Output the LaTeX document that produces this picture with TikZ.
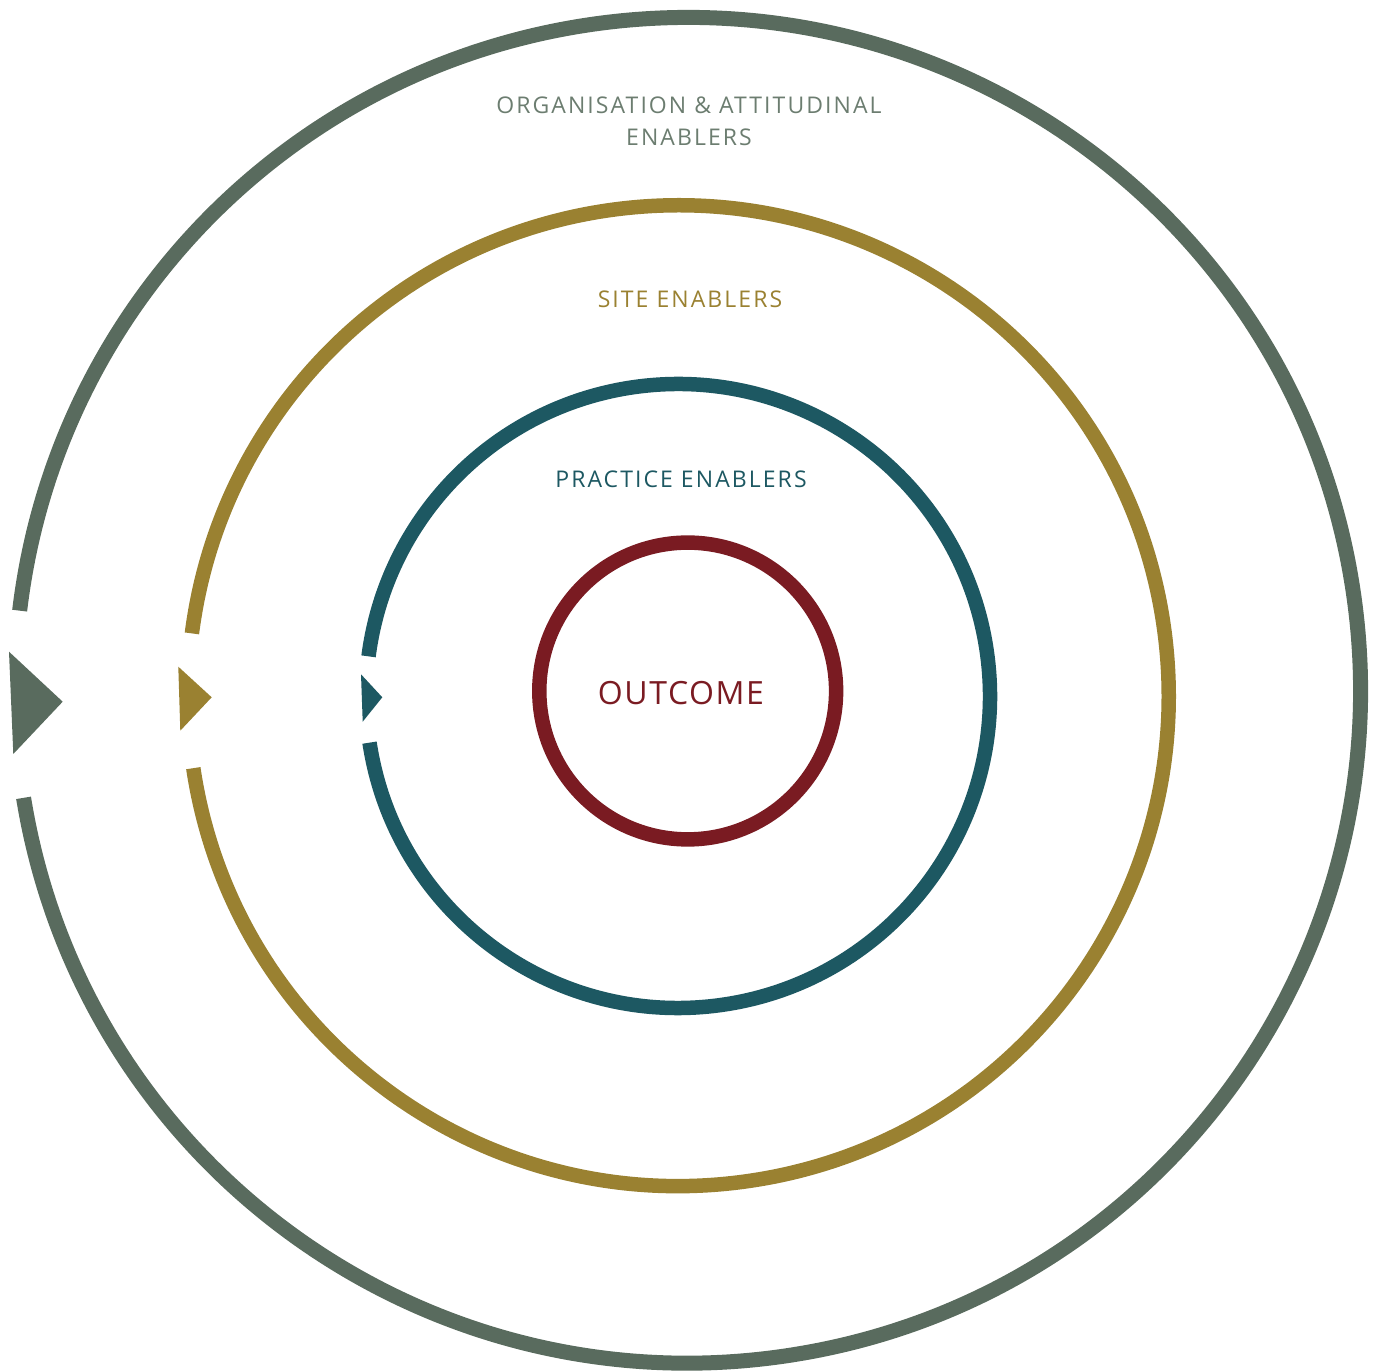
\documentclass[tikz,border=0pt]{standalone}
\usepackage{fontspec}
\usetikzlibrary{calc}
\setmainfont{Open Sans}[LetterSpace=9]
\newfontfamily\titlefont{Open Sans}[LetterSpace=5]
\begin{document}
\begin{tikzpicture}[x=1pt,y=1pt]
  \definecolor{orgcol}{HTML}{596B5E}
  \definecolor{orgtext}{HTML}{6C7D70}
  \definecolor{sitecol}{HTML}{9A8131}
  \definecolor{praccol}{HTML}{1D5862}
  \definecolor{outcol}{HTML}{7A1B22}
  \tikzset{
    ring/.style={line width=14.5pt},
    label/.style={inner sep=0pt, font=\fontsize{23}{32}\selectfont, align=center},
    tip/.style={draw=none}
  }
  \useasboundingbox (0,0) rectangle (1375,1371);

  % outermost ring: organisation & attitudinal enablers
  \coordinate (oc) at (687.7,680.7);
  \draw[ring, line width=15pt, orgcol] ($(oc)+(189.2:672.8)$) arc[start angle=189.2, end angle=533.2, radius=672.8];
  \coordinate (oa) at (9,719.3);
  \coordinate (ob) at (13.3,617);
  \coordinate (ot) at (62.7,669.3);
  \fill[tip, orgcol] (oa) -- (ot) -- (ob) -- cycle;

  % site enablers ring
  \coordinate (sc) at (678.3,675.3);
  \draw[ring, sitecol] ($(sc)+(188.5:490.4)$) arc[start angle=188.5, end angle=532.7, radius=490.4];
  \coordinate (sa) at (178.3,704.3);
  \coordinate (sb) at (180.3,640.3);
  \coordinate (st) at (211.7,673.7);
  \fill[tip, sitecol] (sa) -- (st) -- (sb) -- cycle;

  % practice enablers ring
  \coordinate (pc) at (678,675);
  \draw[ring, praccol] ($(pc)+(188.6:312)$) arc[start angle=188.6, end angle=532.7, radius=312];
  \coordinate (pa) at (361,696.7);
  \coordinate (pb) at (362.7,649.3);
  \coordinate (pt) at (382.3,673.7);
  \fill[tip, praccol] (pa) -- (pt) -- (pb) -- cycle;

  % outcome ring
  \coordinate (cc) at (687.7,680);
  \draw[ring, outcol] (cc) circle[radius=148.4];

  % labels
  \node[label, text=orgtext] (orglabel) at (689,1250) {ORGANISATION \& ATTITUDINAL\\ENABLERS};
  \node[label, text=sitecol] (sitelabel) at (690,1072) {SITE ENABLERS};
  \node[label, text=praccol] (praclabel) at (681,892) {PRACTICE ENABLERS};
  \node[label, text=outcol, font=\titlefont\fontsize{32}{36}\selectfont] (outlabel) at (681,678) {OUTCOME};
\end{tikzpicture}
\end{document}
